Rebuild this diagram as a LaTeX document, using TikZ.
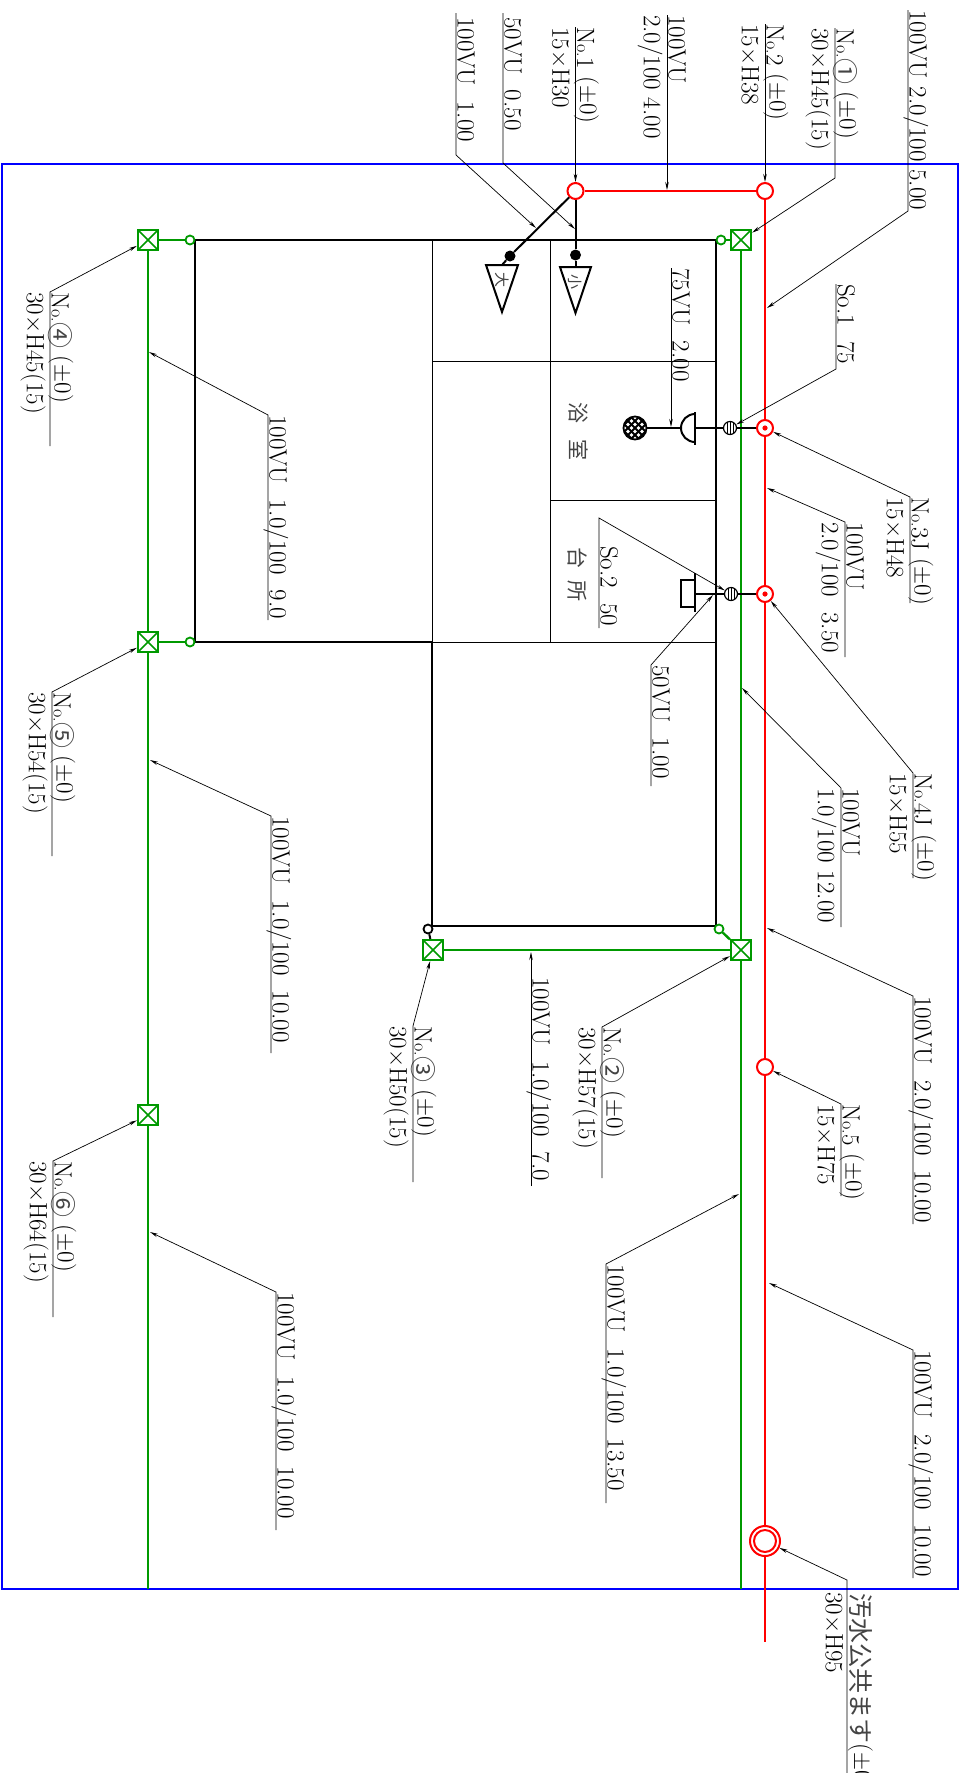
\documentclass[tikz,border=0pt]{standalone}
\usepackage{fontspec}
\usepackage{tikz}
\usetikzlibrary{arrows.meta}
\newfontfamily\cjk{Noto Sans CJK JP}[Color=444444]
\definecolor{pipegreen}{RGB}{0,153,0}
\newcommand{\No}{N{\fontsize{18}{18}\selectfont o.}}
\newcommand{\wide}[1]{{\cjk\fontsize{25}{25}\selectfont #1}}
\newcommand{\ring}[1]{\raisebox{-1pt}{\cjk\fontsize{26}{26}\selectfont #1}}
\newcommand{\level}{\raisebox{3pt}{(±0)}}
\tikzset{
  upper/.style = {rotate=-90, anchor=south west, font=\fontsize{25}{25}\selectfont, inner xsep=0pt, inner ysep=1.5pt, text height=17pt, text depth=0pt},
  lower/.style = {rotate=-90, anchor=north west, font=\fontsize{25}{25}\selectfont, inner xsep=0pt, inner ysep=6pt, text height=17pt, text depth=0pt},
  room/.style = {rotate=-90, font=\cjk\fontsize{21}{21}\selectfont},
  leader/.style = {-{Stealth[length=8pt,width=3.5pt]}, line width=0.7pt},
  wall/.style = {line width=2pt},
  thin wall/.style = {line width=0.9pt},
  redpipe/.style = {red, line width=2.4pt},
  greenpipe/.style = {pipegreen, line width=2.4pt},
  joint/.style = {circle, draw=red, fill=white, line width=2pt, minimum size=16pt, inner sep=0pt},
  dotjoint/.style = {joint, path picture={\fill[red] (path picture bounding box.center) circle (2.6pt);}},
  valve/.style = {rectangle, draw=pipegreen, fill=white, line width=2.2pt, minimum size=20pt, inner sep=0pt,
    path picture={\draw[pipegreen, line width=1.6pt] (path picture bounding box.north west) -- (path picture bounding box.south east) (path picture bounding box.north east) -- (path picture bounding box.south west);}},
  tap/.style = {circle, draw=pipegreen, fill=white, line width=1.8pt, minimum size=9pt, inner sep=0pt},
  meter/.style = {circle, draw, fill=white, line width=1.2pt, minimum size=13pt, inner sep=0pt,
    path picture={\draw[line width=1pt] (-3,-7) -- (-3,7) (0,-7) -- (0,7) (3,-7) -- (3,7);}},
  drop/.style = {circle, fill, minimum size=11pt, inner sep=0pt}
}

\begin{document}
\begin{tikzpicture}[x=1pt,y=-1pt]
\useasboundingbox (0,0) rectangle (962,1773);
\draw[blue, line width=2pt] (2,164) rectangle (958,1589);

\draw[wall] (432,642) -- (195,642) -- (195,240) -- (716,240) -- (716,926) -- (432,926) -- (432,642);
\draw[thin wall] (432,240) -- (432,642) -- (716,642);
\draw[thin wall] (550,240) -- (550,642);
\draw[thin wall] (432,361) -- (716,361);
\draw[thin wall] (550,500) -- (716,500);
\node[room] (bath) at (578,431) {浴\hspace{16pt}室};
\node[room] (kitchen) at (578,574) {台\hspace{12pt}所};

\node[joint] (j1) at (575.5,191) {};
\node[joint] (j2) at (765,191) {};
\node[dotjoint] (j3) at (765,428) {};
\node[dotjoint] (j4) at (765,594) {};
\node[joint] (j5) at (765,1067) {};
\node[circle, draw=red, line width=2pt, fill=white, minimum size=30pt, inner sep=0pt] (mh) at (765,1541) {};
\node[circle, draw=red, line width=2pt, minimum size=22pt, inner sep=0pt] (mhin) at (mh) {};
\coordinate (redend) at (765,1642);
\draw[redpipe] (j1) -- (j2);
\draw[redpipe] (j2) -- (j3);
\draw[redpipe] (j3) -- (j4);
\draw[redpipe] (j4) -- (j5);
\draw[redpipe] (j5) -- (mh);
\draw[redpipe] (mh) -- (redend);

\node[valve] (v1) at (741,240) {};
\node[valve] (v2) at (741,950) {};
\node[valve] (v3) at (433,950) {};
\node[valve] (v4) at (148,240) {};
\node[valve] (v5) at (148,642) {};
\node[valve] (v6) at (148,1115) {};
\node[tap] (tap1) at (721,240) {};
\node[tap] (tap2) at (719,929) {};
\node[tap] (tap4) at (190,240) {};
\node[tap] (tap5) at (190,642) {};
\node[circle, draw, fill=white, line width=1.8pt, minimum size=9pt, inner sep=0pt] (tap3) at (428,929) {};
\coordinate (greenend) at (741,1589);
\coordinate (leftend) at (148,1589);
\draw[greenpipe] (v1) -- (v2);
\draw[greenpipe] (v2) -- (greenend);
\draw[greenpipe] (v2) -- (v3);
\draw[greenpipe] (v4) -- (v5);
\draw[greenpipe] (v5) -- (v6);
\draw[greenpipe] (v6) -- (leftend);
\draw[greenpipe] (v1) -- (tap1);
\draw[greenpipe] (v2) -- (tap2);
\draw[greenpipe] (v4) -- (tap4);
\draw[greenpipe] (v5) -- (tap5);
\draw[wall] (v3) -- (tap3);

\node[meter] (m1) at (730,428) {};
\node[meter] (m2) at (731,594) {};
\node[circle, draw, fill=white, line width=1.8pt, minimum size=23pt, inner sep=0pt,
  path picture={\foreach \i in {-21,-14,...,21}{\draw[line width=1.8pt] (\i-14,-14) -- (\i+14,14) (\i-14,14) -- (\i+14,-14);}}] (ball) at (635,428) {};
\coordinate (bar1a) at (695,412);
\coordinate (bar1b) at (695,445);
\coordinate (bar2a) at (695,573);
\coordinate (bar2b) at (695,612);
\coordinate (bar1) at (695,428);
\coordinate (bar2) at (695,594);
\coordinate (bowl) at (681,428);
\draw[wall] (j3) -- (m1);
\draw[wall] (m1) -- (bar1);
\draw[wall] (bowl) -- (ball);
\draw[wall] (j4) -- (m2);
\draw[wall] (m2) -- (bar2);
\draw[wall] (bar1a) -- (bar1b);
\draw[wall] (bar2a) -- (bar2b);
\draw[wall] (695,414) arc[start angle=90,end angle=270,radius=14pt];
\draw[wall] (695,580) -- (681,580) -- (681,607) -- (695,607);

\node[drop] (d1) at (575.5,255) {};
\node[drop] (d2) at (510,256) {};
\draw[wall] (j1) -- (d1);
\draw[wall] (j1) -- (d2);
\coordinate (f1) at (575.5,267);
\coordinate (f2) at (502,265);
\draw[wall] (d1) -- (f1);
\draw[wall] (d2) -- (f2);
\draw[wall] (560,267) -- (591,267) -- (575.5,313) -- cycle;
\draw[wall] (486,265) -- (518,265) -- (502,312) -- cycle;
\node[rotate=-90, font=\cjk\fontsize{15}{15}\selectfont] (small) at (575.5,282) {小};
\node[rotate=-90, font=\cjk\fontsize{15}{15}\selectfont] (large) at (502,280) {大};

\coordinate (a1) at (456,13);
\coordinate (b1) at (456,155);
\coordinate (e1) at (536,228);
\node[upper] (t1) at ([yshift=-4pt]a1) {100VU\ \ 1.00};
\draw[leader] (a1) -- (b1) -- (e1);

\coordinate (a2) at (503,13);
\coordinate (b2) at (503,163);
\coordinate (e2) at (575,229);
\node[upper] (t2) at ([yshift=-4pt]a2) {50VU\ \ 0.50};
\draw[leader] (a2) -- (b2) -- (e2);

\coordinate (a3) at (575.5,27);
\node[upper] (t3) at (a3) {\No 1 \level};
\node[lower] (u3) at (a3) {15×H30};
\draw[leader] (a3) -- (j1);

\coordinate (a4) at (667,15);
\coordinate (e4) at (667,190);
\node[upper] (t4) at (a4) {100VU};
\node[lower] (u4) at (a4) {2.0/100 4.00};
\draw[leader] (a4) -- (e4);

\coordinate (a5) at (765,24);
\node[upper] (t5) at (a5) {\No 2 \level};
\node[lower] (u5) at (a5) {15×H38};
\draw[leader] (a5) -- (j2);

\coordinate (a6) at (835,28);
\coordinate (b6) at (835,178);
\node[upper] (t6) at (a6) {\No\ring{①} \level};
\node[lower] (u6) at (a6) {30×H45(15)};
\draw[leader] (a6) -- (b6) -- (v1);

\coordinate (a7) at (908,10);
\coordinate (b7) at (908,211);
\coordinate (e7) at (767,308);
\node[upper] (t7) at (a7) {100VU 2.0/100 5.00};
\draw[leader] (a7) -- (b7) -- (e7);

\coordinate (a8) at (836,284);
\coordinate (b8) at (836,369);
\node[upper] (t8) at (a8) {So.1\ \ 75};
\draw[leader] (a8) -- (b8) -- (m1);

\coordinate (a9) at (671,268);
\coordinate (e9) at (671,427);
\node[upper] (t9) at (a9) {75VU\ \ 2.00};
\draw[leader] (a9) -- (e9);

\coordinate (a10) at (910,603);
\coordinate (b10) at (910,497);
\node[upper] (t10) at (b10) {\No 3J \level};
\node[lower] (u10) at (b10) {15×H48};
\draw[leader] (a10) -- (b10) -- (j3);

\coordinate (a11) at (845,657);
\coordinate (b11) at (845,522);
\coordinate (e11) at (767,488);
\node[upper] (t11) at (b11) {100VU};
\node[lower] (u11) at (b11) {2.0/100\ \ 3.50};
\draw[leader] (a11) -- (b11) -- (e11);

\coordinate (a12) at (913,878);
\coordinate (b12) at (913,773);
\node[upper] (t12) at (b12) {\No 4J \level};
\node[lower] (u12) at (b12) {15×H55};
\draw[leader] (a12) -- (b12) -- (j4);

\coordinate (a13) at (841,927);
\coordinate (b13) at (841,788);
\coordinate (e13) at (742,688);
\node[upper] (t13) at (b13) {100VU};
\node[lower] (u13) at (b13) {1.0/100 12.00};
\draw[leader] (a13) -- (b13) -- (e13);

\coordinate (a14) at (599,628);
\coordinate (b14) at (599,518);
\node[upper] (t14) at ([yshift=-28pt]b14) {So.2\ \ 50};
\draw[leader] (a14) -- (b14) -- (m2);

\coordinate (a15) at (651,786);
\coordinate (b15) at (651,665);
\coordinate (e15) at (713,595);
\node[upper] (t15) at (b15) {50VU\ \ 1.00};
\draw[leader] (a15) -- (b15) -- (e15);

\coordinate (a16) at (913,1224);
\coordinate (b16) at (913,996);
\coordinate (e16) at (767,928);
\node[upper] (t16) at (b16) {100VU\ \ 2.0/100\ \ 10.00};
\draw[leader] (a16) -- (b16) -- (e16);

\coordinate (a17) at (841,1196);
\coordinate (b17) at (841,1104);
\node[upper] (t17) at (b17) {\No 5 \level};
\node[lower] (u17) at (b17) {15×H75};
\draw[leader] (a17) -- (b17) -- (j5);

\coordinate (a18) at (913,1578);
\coordinate (b18) at (913,1350);
\coordinate (e18) at (769,1283);
\node[upper] (t18) at (b18) {100VU\ \ 2.0/100\ \ 10.00};
\draw[leader] (a18) -- (b18) -- (e18);

\coordinate (a19) at (847,1773);
\coordinate (b19) at (847,1580);
\node[upper, inner ysep=4pt] (t19) at ([yshift=-13pt]b19) {\wide{汚水公共ます}\level};
\node[lower, inner ysep=4pt] (u19) at ([yshift=-12pt]b19) {30×H95};
\draw[leader] (a19) -- (b19) -- (mh);

\coordinate (a20) at (606,1503);
\coordinate (b20) at (606,1264);
\coordinate (e20) at (739,1194);
\node[upper] (t20) at (b20) {100VU\ \ 1.0/100\ \ 13.50};
\draw[leader] (a20) -- (b20) -- (e20);

\coordinate (a21) at (602,1178);
\coordinate (b21) at (602,1027);
\node[upper] (t21) at (b21) {\No\ring{②} \level};
\node[lower] (u21) at (b21) {30×H57(15)};
\draw[leader] (a21) -- (b21) -- (v2);

\coordinate (a22) at (531,1186);
\coordinate (e22) at (531,952);
\node[upper] (t22) at ([yshift=-25pt]e22) {100VU\ \ 1.0/100\ \ 7.0};
\draw[leader] (a22) -- (e22);

\coordinate (a23) at (413,1182);
\coordinate (b23) at (413,1026);
\node[upper] (t23) at (b23) {\No\ring{③} \level};
\node[lower] (u23) at (b23) {30×H50(15)};
\draw[leader] (a23) -- (b23) -- (v3);

\coordinate (a24) at (50,446);
\coordinate (b24) at (50,292);
\node[upper] (t24) at (b24) {\No\ring{④} \level};
\node[lower] (u24) at (b24) {30×H45(15)};
\draw[leader] (a24) -- (b24) -- (v4);

\coordinate (a25) at (268,620);
\coordinate (b25) at (268,415);
\coordinate (e25) at (149,352);
\node[upper] (t25) at (b25) {100VU\ \ 1.0/100\ \ 9.0};
\draw[leader] (a25) -- (b25) -- (e25);

\coordinate (a26) at (52,856);
\coordinate (b26) at (52,692);
\node[upper] (t26) at (b26) {\No\ring{⑤} \level};
\node[lower] (u26) at (b26) {30×H54(15)};
\draw[leader] (a26) -- (b26) -- (v5);

\coordinate (a27) at (271,1053);
\coordinate (b27) at (271,816);
\coordinate (e27) at (150,760);
\node[upper] (t27) at (b27) {100VU\ \ 1.0/100\ \ 10.00};
\draw[leader] (a27) -- (b27) -- (e27);

\coordinate (a28) at (53,1317);
\coordinate (b28) at (53,1161);
\node[upper] (t28) at (b28) {\No\ring{⑥} \level};
\node[lower] (u28) at (b28) {30×H64(15)};
\draw[leader] (a28) -- (b28) -- (v6);

\coordinate (a29) at (276,1530);
\coordinate (b29) at (276,1292);
\coordinate (e29) at (150,1232);
\node[upper] (t29) at (b29) {100VU\ \ 1.0/100\ \ 10.00};
\draw[leader] (a29) -- (b29) -- (e29);
\end{tikzpicture}
\end{document}
